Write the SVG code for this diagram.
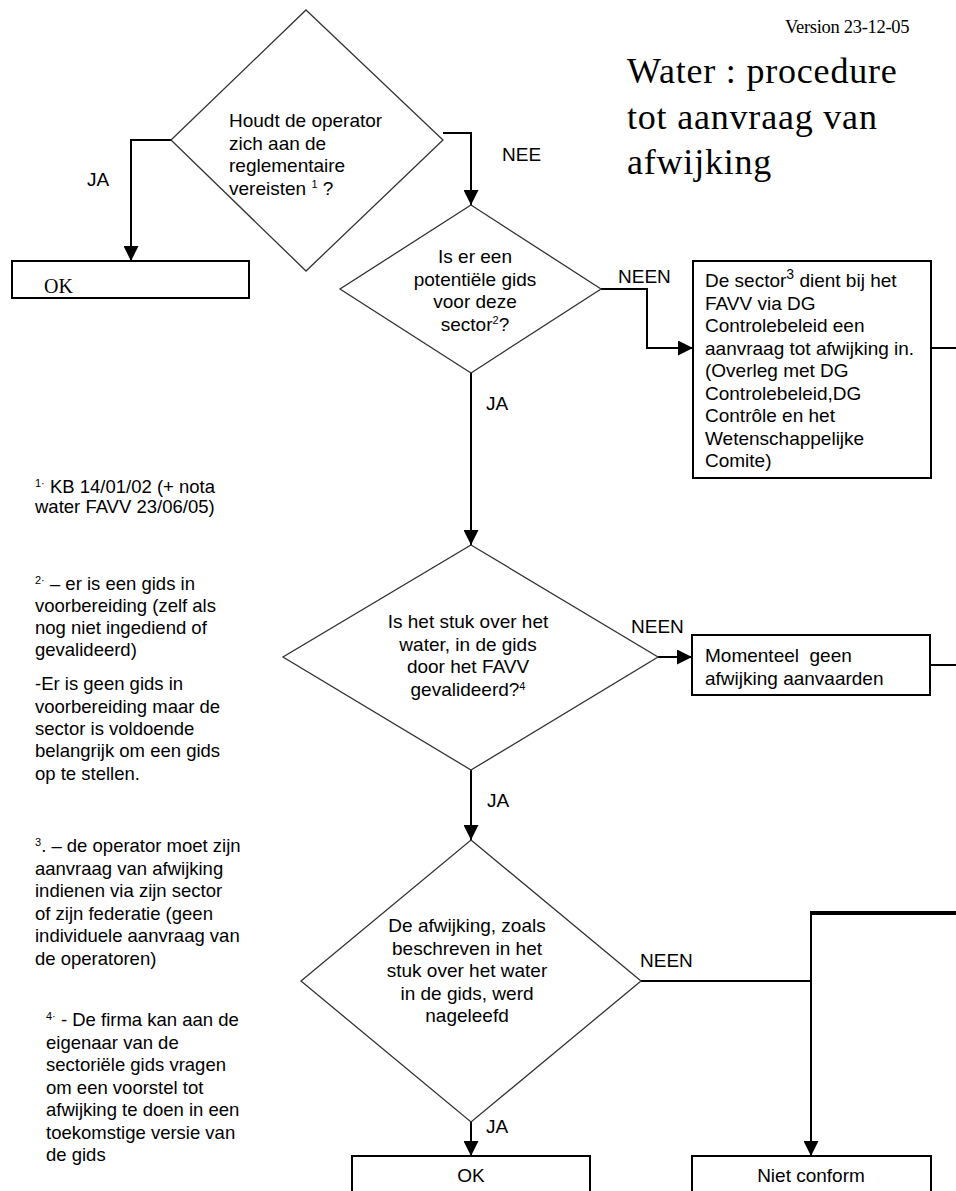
<svg xmlns="http://www.w3.org/2000/svg" width="956" height="1191" viewBox="0 0 956 1191">
<style>
.t{font-family:"Liberation Sans",Arial,sans-serif;font-size:19px;fill:#000}
.n{font-family:"Liberation Sans",Arial,sans-serif;font-size:18.5px;fill:#000}
.s{font-family:"Liberation Serif","Times New Roman",serif;fill:#000}
.dia{fill:#fff;stroke:#333;stroke-width:1.3}
.box{fill:#fff;stroke:#000;stroke-width:2}
.c{fill:none;stroke:#000;stroke-width:2}
.sup{font-size:11px}
</style>
<defs>
<marker id="ah" markerUnits="userSpaceOnUse" markerWidth="15" markerHeight="15" refX="15" refY="7.5" orient="auto">
<path d="M0,0 L15,7.5 L0,15 z" fill="#000"/>
</marker>
</defs>
<rect width="956" height="1191" fill="#fff"/>

<g id="title">
<text class="s" x="785" y="33" font-size="18.5" letter-spacing="-0.3">Version 23-12-05</text>
<text class="s" x="627" y="83" font-size="36" letter-spacing="0.8">Water : procedure</text>
<text class="s" x="627" y="129" font-size="36" letter-spacing="0.8">tot aanvraag van</text>
<text class="s" x="627" y="174" font-size="36" letter-spacing="0.8">afwijking</text>
</g>

<g id="connectors">
<path class="c" d="M171,140 H131 V261" marker-end="url(#ah)"/>
<path class="c" d="M443,133 H471 V205" marker-end="url(#ah)"/>
<path class="c" d="M601,289 H647 V348 H693" marker-end="url(#ah)"/>
<path class="c" d="M931,348 H956"/>
<path class="c" d="M471,373 V545" marker-end="url(#ah)"/>
<path class="c" d="M658,657 H692" marker-end="url(#ah)"/>
<path class="c" d="M930,665 H956"/>
<path class="c" d="M471,770 V840" marker-end="url(#ah)"/>
<path class="c" d="M641,981 H811"/>
<path fill="none" stroke="#000" stroke-width="4" d="M811,913 H956"/>
<path class="c" d="M811,911 V1156" marker-end="url(#ah)"/>
<path class="c" d="M471,1122 V1156" marker-end="url(#ah)"/>
<text class="t" x="87" y="186">JA</text>
<text class="t" x="502" y="161">NEE</text>
<text class="t" x="618" y="283">NEEN</text>
<text class="t" x="486" y="410">JA</text>
<text class="t" x="631" y="633">NEEN</text>
<text class="t" x="487" y="807">JA</text>
<text class="t" x="640" y="967">NEEN</text>
<text class="t" x="486" y="1133">JA</text>
</g>

<g id="d1">
<polygon class="dia" points="306,10 443,140 306,271 171,140"/>
<text class="t" x="229" y="127">Houdt de operator</text>
<text class="t" x="229" y="149.5">zich aan de</text>
<text class="t" x="229" y="172">reglementaire</text>
<text class="t" x="229" y="194.5">vereisten <tspan class="sup" dy="-7">1</tspan><tspan dy="7"> ?</tspan></text>
</g>

<g id="ok1">
<rect class="box" x="12" y="261" width="237" height="37"/>
<text class="s" x="44" y="293" font-size="20">OK</text>
</g>

<g id="d2">
<polygon class="dia" points="471,205 601,289 471,373 340,289"/>
<g text-anchor="middle">
<text class="t" x="475" y="263">Is er een</text>
<text class="t" x="475" y="285.5">potentiële gids</text>
<text class="t" x="475" y="308">voor deze</text>
<text class="t" x="475" y="331">sector<tspan class="sup" dy="-7">2</tspan><tspan dy="7">?</tspan></text>
</g>
</g>

<g id="sector">
<rect class="box" x="693" y="261" width="238" height="217"/>
<text class="t" x="705" y="287">De sector<tspan font-size="14" dy="-8">3</tspan><tspan dy="8"> dient bij het</tspan></text>
<text class="t" x="705" y="309.5">FAVV via DG</text>
<text class="t" x="705" y="332">Controlebeleid een</text>
<text class="t" x="705" y="354.5">aanvraag tot afwijking in.</text>
<text class="t" x="705" y="377">(Overleg met DG</text>
<text class="t" x="705" y="399.5">Controlebeleid,DG</text>
<text class="t" x="705" y="422">Contrôle en het</text>
<text class="t" x="705" y="444.5">Wetenschappelijke</text>
<text class="t" x="705" y="467">Comite)</text>
</g>

<g id="d3">
<polygon class="dia" points="471,545 658,657 471,770 283,657"/>
<g text-anchor="middle">
<text class="t" x="468" y="628">Is het stuk over het</text>
<text class="t" x="468" y="650.5">water, in de gids</text>
<text class="t" x="468" y="673">door het FAVV</text>
<text class="t" x="468" y="696">gevalideerd?<tspan class="sup" dy="-6">4</tspan></text>
</g>
</g>

<g id="momenteel">
<rect class="box" x="692" y="635" width="238" height="60"/>
<text class="t" x="705" y="662" xml:space="preserve">Momenteel  geen</text>
<text class="t" x="705" y="685">afwijking aanvaarden</text>
</g>

<g id="d4">
<polygon class="dia" points="471,840 641,981 471,1122 301,981"/>
<g text-anchor="middle">
<text class="t" x="467" y="932">De afwijking, zoals</text>
<text class="t" x="467" y="954.5">beschreven in het</text>
<text class="t" x="467" y="977">stuk over het water</text>
<text class="t" x="467" y="999.5">in de gids, werd</text>
<text class="t" x="467" y="1022">nageleefd</text>
</g>
</g>

<g id="ok2">
<rect class="box" x="352" y="1156" width="238" height="50"/>
<text class="t" x="471" y="1182" text-anchor="middle">OK</text>
</g>

<g id="nietconform">
<rect class="box" x="692" y="1156" width="239" height="50"/>
<text class="t" x="811" y="1182" text-anchor="middle">Niet conform</text>
</g>

<g id="notes">
<text class="n" x="35" y="493"><tspan class="sup" dy="-6">1·</tspan><tspan dy="6"> KB 14/01/02 (+ nota</tspan></text>
<text class="n" x="35" y="513">water FAVV 23/06/05)</text>
<text class="n" x="35" y="590"><tspan class="sup" dy="-6">2·</tspan><tspan dy="6"> – er is een gids in</tspan></text>
<text class="n" x="35" y="612">voorbereiding (zelf als</text>
<text class="n" x="35" y="634">nog niet ingediend of</text>
<text class="n" x="35" y="656">gevalideerd)</text>
<text class="n" x="35" y="690">-Er is geen gids in</text>
<text class="n" x="35" y="712.5">voorbereiding maar de</text>
<text class="n" x="35" y="735">sector is voldoende</text>
<text class="n" x="35" y="757">belangrijk om een gids</text>
<text class="n" x="35" y="779.5">op te stellen.</text>
<text class="n" x="35" y="852"><tspan class="sup" dy="-6">3</tspan><tspan dy="6">. – de operator moet zijn</tspan></text>
<text class="n" x="35" y="874.5">aanvraag van afwijking</text>
<text class="n" x="35" y="897">indienen via zijn sector</text>
<text class="n" x="35" y="919.5">of zijn federatie (geen</text>
<text class="n" x="35" y="942">individuele aanvraag van</text>
<text class="n" x="35" y="964.5">de operatoren)</text>
<text class="n" x="46" y="1026"><tspan class="sup" dy="-6">4·</tspan><tspan dy="6"> - De firma kan aan de</tspan></text>
<text class="n" x="46" y="1048.5">eigenaar van de</text>
<text class="n" x="46" y="1071">sectoriële gids vragen</text>
<text class="n" x="46" y="1093.5">om een voorstel tot</text>
<text class="n" x="46" y="1116">afwijking te doen in een</text>
<text class="n" x="46" y="1138.5">toekomstige versie van</text>
<text class="n" x="46" y="1161">de gids</text>
</g>
</svg>
